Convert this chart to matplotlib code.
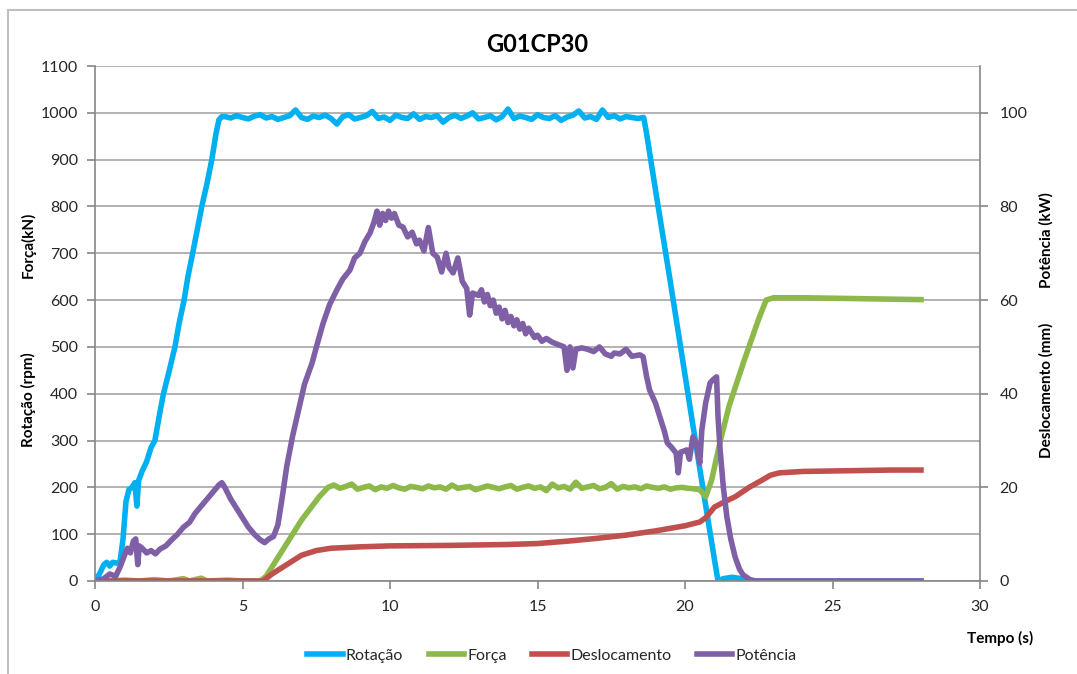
import numpy as np
import matplotlib
matplotlib.use("Agg")
import matplotlib.pyplot as plt
from matplotlib.patches import Rectangle

plt.rcParams['font.family'] = ['Lato', 'DejaVu Sans']

# ---- data ----
# Rotação (rpm)
rot_ramp_t = [0.0, 0.15, 0.3, 0.4, 0.5, 0.6, 0.75, 0.85, 0.95, 1.05, 1.15, 1.25, 1.35, 1.42, 1.48,
              1.6, 1.75, 1.9, 2.03, 2.2, 2.32, 2.5, 2.71, 2.85, 3.02, 3.15, 3.31, 3.45, 3.62, 3.8,
              3.96, 4.1, 4.2, 4.3]
rot_ramp_v = [0, 15, 35, 40, 32, 40, 38, 42, 90, 170, 195, 200, 210, 160, 215,
              235, 255, 285, 300, 360, 400, 445, 500, 550, 600, 650, 700, 745, 800, 850,
              900, 955, 985, 992]
rot_plat_v = [992, 989, 994, 990, 987, 993, 996, 989, 992, 986, 990, 994, 1006, 990, 986,
              993, 990, 995, 988, 976, 992, 996, 987, 990, 994, 1003, 988, 991, 984, 995,
              990, 988, 998, 986, 992, 990, 994, 980, 990, 995, 988, 993, 1000, 987, 990,
              994, 985, 992, 1008, 988, 993, 990, 986, 996, 990, 988, 994, 984, 991, 995,
              1004, 989, 992, 986, 1006, 990, 994, 987, 992, 990, 988]
rot_end_t = [18.6, 18.7, 19.0, 19.5, 20.0, 20.5, 21.0, 21.12, 21.3, 21.6, 21.9, 22.1, 28.0]
rot_end_v = [990, 955, 835, 640, 440, 240, 45, 0, 5, 8, 5, 0, 0]

# Força (kN)
forca_ini_t = [0.0, 0.5, 1.0, 1.5, 2.0, 2.5, 3.0, 3.2, 3.6, 3.8, 4.5, 5.0, 5.6, 5.8, 6.0, 6.3,
               6.6, 7.0, 7.3, 7.6, 7.9]
forca_ini_v = [0, 0, 2, 0, 3, 0, 5, 0, 6, 0, 2, 0, 0, 10, 30, 60,
               90, 130, 155, 180, 200]
forca_plat_v = [205, 198, 202, 207, 196, 200, 203, 195, 201, 198, 204, 199, 196, 202, 200,
                197, 203, 199, 201, 196, 205, 198, 200, 202, 195, 199, 203, 200, 197, 201,
                204, 196, 200, 203, 198, 201, 193, 207, 199, 202, 196, 211, 198, 201, 204,
                197, 200, 208, 196, 202, 199, 201, 197, 203, 200, 198, 201, 196, 199, 200,
                198, 197, 195]
forca_end_t = [20.7, 20.9, 21.2, 21.5, 22.0, 22.5, 22.75, 23.0, 24.0, 25.0, 26.0, 27.0, 28.0]
forca_end_v = [180, 215, 300, 375, 470, 560, 600, 605, 605, 604, 603, 602, 601]

# Deslocamento (mm, drawn x10 on the left scale)
desl_t = [0.0, 5.7, 6.0, 6.5, 7.0, 7.5, 8.0, 9.0, 10.0, 12.0, 14.0, 15.0, 16.0, 17.0, 18.0,
          19.0, 20.0, 20.5, 20.7, 21.0, 21.3, 21.7, 22.2, 22.6, 22.9, 23.2, 24.0, 25.0, 26.0,
          27.0, 28.0]
desl_v = [0, 0, 15, 35, 55, 65, 70, 73, 75, 76, 78, 80, 85, 91, 98,
          107, 118, 126, 135, 158, 168, 180, 201, 215, 226, 231, 234, 235, 236, 237, 237]

# Potência (kW, drawn x10 on the left scale)
pot_t = [0.0, 0.3, 0.5, 0.7, 0.85, 1.0, 1.1, 1.2, 1.3, 1.38, 1.45, 1.5, 1.6, 1.75, 1.9, 2.05,
         2.2, 2.4, 2.6, 2.8, 3.0, 3.2, 3.4, 3.6, 3.8, 4.0, 4.2, 4.3, 4.4, 4.6, 4.8, 5.0, 5.2,
         5.4, 5.6, 5.75, 5.9, 6.05, 6.2, 6.35, 6.5, 6.7, 6.9, 7.1, 7.36, 7.55, 7.73, 7.95, 8.2,
         8.4, 8.64, 8.8, 8.98, 9.15, 9.32, 9.45, 9.56, 9.65, 9.75, 9.85, 9.95, 10.05, 10.15,
         10.3, 10.44, 10.6, 10.75, 10.9, 11.0, 11.15, 11.3, 11.45, 11.6, 11.75, 11.9, 12.0,
         12.14, 12.3, 12.45, 12.6, 12.7, 12.8, 13.0, 13.1, 13.2, 13.3, 13.4, 13.5, 13.6, 13.7,
         13.8, 13.9, 14.0, 14.1, 14.2, 14.3, 14.4, 14.5, 14.6, 14.7, 14.8, 14.9, 15.0, 15.15,
         15.3, 15.5, 15.7, 15.9, 16.0, 16.1, 16.2, 16.3, 16.5, 16.7, 16.9,
         17.1, 17.3, 17.5, 17.6, 17.8, 18.0, 18.2, 18.47, 18.58, 18.7, 18.8, 19.0, 19.15, 19.3,
         19.4, 19.55, 19.7, 19.77, 19.85, 20.06, 20.15, 20.27, 20.4, 20.5, 20.57, 20.7, 20.85,
         20.95, 21.07, 21.12, 21.19, 21.3, 21.42, 21.55, 21.7, 21.85, 21.97, 22.2, 22.4, 28.0]
pot_v = [0, 5, 15, 10, 30, 55, 70, 60, 85, 90, 35, 75, 70, 60, 65, 58,
         68, 75, 88, 100, 115, 125, 145, 160, 175, 190, 205, 210, 200, 175, 155, 135, 115,
         100, 88, 82, 90, 95, 120, 180, 245, 310, 365, 420, 466, 510, 550, 590, 622,
         645, 664, 690, 700, 725, 743, 765, 790, 760, 785, 770, 790, 775, 785,
         760, 756, 735, 745, 720, 728, 705, 755, 700, 692, 660, 700, 670,
         658, 690, 640, 625, 568, 615, 610, 622, 596, 612, 588, 600, 572, 585,
         560, 578, 552, 565, 545, 558, 538, 550, 528, 540, 530, 520, 525, 512,
         518, 510, 505, 500, 450, 500, 455, 495, 498, 495, 490,
         500, 485, 480, 487, 485, 495, 480, 483, 479, 436, 408, 380, 350, 320,
         295, 285, 273, 231, 275, 280, 260, 308, 290, 252, 322, 380, 423,
         430, 436, 350, 280, 200, 137, 90, 51, 25, 13, 3, 0, 0]

# sampling grids of the noisy plateaus
rot_plat_t = 4.4 + 0.2 * np.arange(len(rot_plat_v))
forca_plat_t = 8.1 + 0.2 * np.arange(len(forca_plat_v))

rot_t = np.concatenate([rot_ramp_t, rot_plat_t, rot_end_t])
rot_v = np.concatenate([rot_ramp_v, rot_plat_v, rot_end_v])
forca_t = np.concatenate([forca_ini_t, forca_plat_t, forca_end_t])
forca_v = np.concatenate([forca_ini_v, forca_plat_v, forca_end_v])

x_ticks = [0, 5, 10, 15, 20, 25, 30]
left_ticks = list(range(0, 1101, 100))
right_ticks = [0, 20, 40, 60, 80, 100]

c_rot = '#00B0F0'
c_forca = '#8DB84A'
c_desl = '#C0504D'
c_pot = '#7F5FA6'
grid_c = '#A6A6A6'
txt_c = '#262626'

fig = plt.figure(figsize=(10.77, 6.74), dpi=100)
fig.patches.append(Rectangle((8 / 1077, -0.02), 1.1, 1 - 10 / 674 + 0.02,
                             transform=fig.transFigure, fill=False,
                             edgecolor='#BFBFBF', lw=1.5, zorder=0))

ax = fig.add_axes([95 / 1077, 1 - 581 / 674, (980 - 95) / 1077, (581 - 66) / 674])
ax2 = ax.twinx()

lw = 4
ax.plot(rot_t, rot_v, color=c_rot, lw=lw, label='Rotação', solid_joinstyle='round')
ax.plot(forca_t, forca_v, color=c_forca, lw=lw, label='Força', solid_joinstyle='round')
ax.plot(desl_t, desl_v, color=c_desl, lw=lw, label='Deslocamento', solid_joinstyle='round')
ax.plot(pot_t, pot_v, color=c_pot, lw=lw, label='Potência', solid_joinstyle='round')

ax.set_xlim(0, 30)
ax.set_ylim(0, 1100)
ax.set_xticks(x_ticks)
ax.set_yticks(left_ticks)
ax2.set_ylim(0, 110)
ax2.set_yticks(right_ticks)

ax.yaxis.grid(True, color=grid_c, lw=1.2)
ax.set_axisbelow(True)

for a in (ax, ax2):
    for s in a.spines.values():
        s.set_color('#868686')
        s.set_linewidth(1.2)
    a.spines['top'].set_visible(False)
ax.spines['right'].set_visible(False)
ax2.spines['left'].set_visible(False)
ax2.spines['bottom'].set_visible(False)

ax.tick_params(axis='both', colors='#868686', labelcolor=txt_c, labelsize=11.5,
               length=6, width=1.2, direction='out')
ax.tick_params(axis='x', pad=8)
ax.tick_params(axis='y', pad=6)
ax2.tick_params(axis='y', colors='#868686', labelcolor=txt_c, labelsize=11.5,
                length=6, width=1.2, direction='out', pad=8)

fig.text(537 / 1077, 1 - 45 / 674, 'G01CP30', ha='center', va='center',
         fontsize=17, fontweight='bold', color='black')

lab = dict(rotation=90, ha='center', va='center', fontsize=11, fontweight='bold', color='black')
fig.text(28 / 1077, 1 - 245 / 674, 'Força(kN)', **lab)
fig.text(28 / 1077, 1 - 400 / 674, 'Rotação (rpm)', **lab)
fig.text(1046 / 1077, 1 - 240 / 674, 'Potência (kW)', **lab)
fig.text(1046 / 1077, 1 - 390 / 674, 'Deslocamento (mm)', **lab)
fig.text(1000 / 1077, 1 - 638 / 674, 'Tempo (s)', ha='center', va='center',
         fontsize=11, fontweight='bold', color='black')

h, l = ax.get_legend_handles_labels()
fig.legend(h, l, loc='center', bbox_to_anchor=(552 / 1077, 1 - 656 / 674), ncol=4,
           frameon=False, fontsize=11.5, handlelength=2.2, handletextpad=0.2,
           columnspacing=1.6, labelcolor=txt_c)

fig.savefig('out.png', dpi=100)
